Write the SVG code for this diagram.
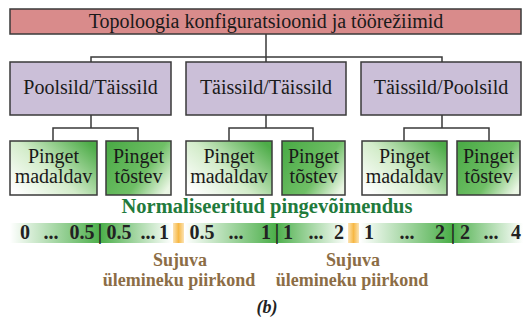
<svg xmlns="http://www.w3.org/2000/svg" width="523" height="320" viewBox="0 0 523 320">
<defs>
<linearGradient id="gDown" x1="0" y1="0.85" x2="1" y2="0.15">
<stop offset="0" stop-color="#ffffff"/>
<stop offset="0.45" stop-color="#d3ecca"/>
<stop offset="1" stop-color="#4dac48"/>
</linearGradient>
<linearGradient id="gUp" x1="0" y1="0.2" x2="1" y2="0.8">
<stop offset="0" stop-color="#4dac48"/>
<stop offset="0.6" stop-color="#6fbf66"/>
<stop offset="1" stop-color="#eaf6e4"/>
</linearGradient>
<linearGradient id="gBar" x1="0" y1="0" x2="1" y2="0">
<stop offset="0" stop-color="#ffffff"/>
<stop offset="0.56" stop-color="#4caf4a"/>
<stop offset="1" stop-color="#ffffff"/>
</linearGradient>
<linearGradient id="gOr" x1="0" y1="0" x2="1" y2="0">
<stop offset="0" stop-color="#fbe3b4"/>
<stop offset="0.5" stop-color="#f7b845"/>
<stop offset="1" stop-color="#fbe3b4"/>
</linearGradient>
</defs>
<style>
.box{stroke:#3a3a3a;stroke-width:1.5}
.t{font-family:"Liberation Serif","DejaVu Serif",serif;fill:#1a1a1a;text-anchor:middle}
.lbl{font-size:20px}
.num{font-family:"Liberation Serif","DejaVu Serif",serif;font-size:20px;font-weight:bold;fill:#222;text-anchor:middle}
.conn{stroke:#3a3a3a;stroke-width:1.5;fill:none}
.brown{font-family:"Liberation Serif","DejaVu Serif",serif;font-size:18px;font-weight:bold;fill:#8c6d45;text-anchor:middle}
</style>
<rect width="523" height="320" fill="#ffffff"/>
<g id="connectors">
<path class="conn" d="M266,34V57M91,62V57H442V62M266,57V62"/>
<path class="conn" d="M91,115V128M53,141V128H138V141"/>
<path class="conn" d="M266,115V128M229,141V128H313V141"/>
<path class="conn" d="M442,115V128M404,141V128H489V141"/>
</g>
<g id="title">
<rect class="box" x="10" y="9" width="511" height="25" fill="#d98b8b"/>
<text class="t lbl" x="266" y="28">Topoloogia konfiguratsioonid ja töörežiimid</text>
</g>
<g id="mid1">
<rect class="box" x="10" y="62" width="161" height="53" fill="#cbbfd8"/>
<text class="t lbl" x="90.5" y="94">Poolsild/Täissild</text>
</g>
<g id="mid2">
<rect class="box" x="186" y="62" width="160" height="53" fill="#cbbfd8"/>
<text class="t lbl" x="266" y="94">Täissild/Täissild</text>
</g>
<g id="mid3">
<rect class="box" x="361" y="62" width="160" height="53" fill="#cbbfd8"/>
<text class="t lbl" x="441" y="94">Täissild/Poolsild</text>
</g>
<g id="c1a">
<rect class="box" x="10" y="141" width="87" height="54" fill="url(#gDown)"/>
<text class="t lbl" x="53.5" y="163">Pinget</text>
<text class="t lbl" x="53.5" y="183">madaldav</text>
</g>
<g id="c1b">
<rect class="box" x="106" y="141" width="65" height="54" fill="url(#gUp)"/>
<text class="t lbl" x="138.5" y="163">Pinget</text>
<text class="t lbl" x="138.5" y="183">tõstev</text>
</g>
<g id="c2a">
<rect class="box" x="186" y="141" width="86" height="54" fill="url(#gDown)"/>
<text class="t lbl" x="229" y="163">Pinget</text>
<text class="t lbl" x="229" y="183">madaldav</text>
</g>
<g id="c2b">
<rect class="box" x="282" y="141" width="63" height="54" fill="url(#gUp)"/>
<text class="t lbl" x="313.5" y="163">Pinget</text>
<text class="t lbl" x="313.5" y="183">tõstev</text>
</g>
<g id="c3a">
<rect class="box" x="362" y="141" width="85" height="54" fill="url(#gDown)"/>
<text class="t lbl" x="404.5" y="163">Pinget</text>
<text class="t lbl" x="404.5" y="183">madaldav</text>
</g>
<g id="c3b">
<rect class="box" x="457" y="141" width="63" height="54" fill="url(#gUp)"/>
<text class="t lbl" x="488.5" y="163">Pinget</text>
<text class="t lbl" x="488.5" y="183">tõstev</text>
</g>
<g id="scale">
<text x="267" y="213" font-family="Liberation Serif, DejaVu Serif, serif" font-size="20.5" font-weight="bold" fill="#1f7a3c" text-anchor="middle">Normaliseeritud pingevõimendus</text>
<rect x="10" y="223" width="162" height="20" fill="url(#gBar)"/>
<rect x="185" y="223" width="162" height="20" fill="url(#gBar)"/>
<rect x="360" y="223" width="163" height="20" fill="url(#gBar)"/>
<rect x="173" y="223" width="11" height="20" fill="url(#gOr)"/>
<rect x="348" y="223" width="11" height="20" fill="url(#gOr)"/>
<text class="num" x="25" y="239">0</text>
<text class="num" x="51" y="239">...</text>
<text class="num" x="82" y="239">0.5</text>
<text class="num" x="100" y="239">|</text>
<text class="num" x="119" y="239">0.5</text>
<text class="num" x="148" y="239">...</text>
<text class="num" x="164" y="239">1</text>
<text class="num" x="202" y="239">0.5</text>
<text class="num" x="236" y="239">...</text>
<text class="num" x="266" y="239">1</text>
<text class="num" x="277" y="239">|</text>
<text class="num" x="288" y="239">1</text>
<text class="num" x="316" y="239">...</text>
<text class="num" x="339" y="239">2</text>
<text class="num" x="369" y="239">1</text>
<text class="num" x="407" y="239">...</text>
<text class="num" x="440" y="239">2</text>
<text class="num" x="453" y="239">|</text>
<text class="num" x="465" y="239">2</text>
<text class="num" x="491" y="239">...</text>
<text class="num" x="516" y="239">4</text>
</g>
<g id="region1">
<text class="brown" x="180" y="266">Sujuva</text>
<text class="brown" x="179" y="286">ülemineku piirkond</text>
</g>
<g id="region2">
<text class="brown" x="353" y="266">Sujuva</text>
<text class="brown" x="352" y="286">ülemineku piirkond</text>
</g>
<text x="267" y="313" font-family="Liberation Serif, DejaVu Serif, serif" font-size="18" font-style="italic" font-weight="bold" fill="#222" text-anchor="middle">(b)</text>
</svg>
